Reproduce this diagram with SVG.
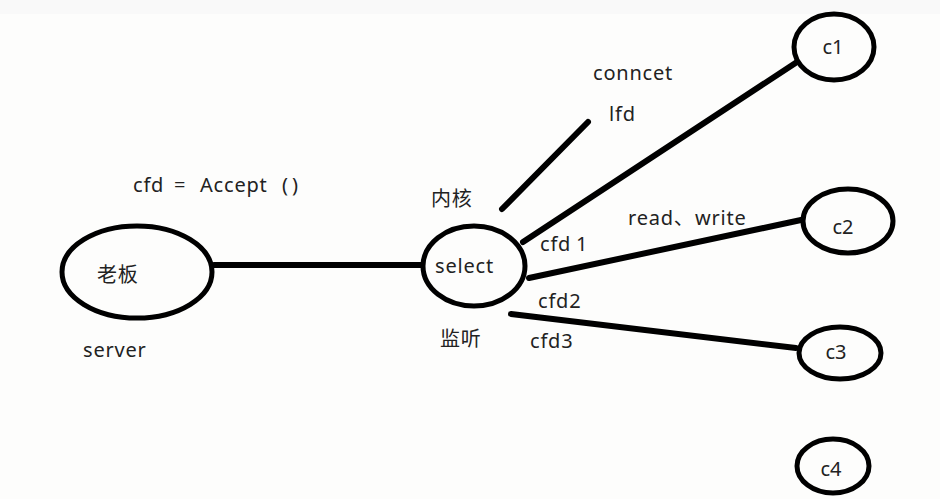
<svg xmlns="http://www.w3.org/2000/svg" width="940" height="499" viewBox="0 0 940 499">
<style>
.n{fill:none;stroke:#000;stroke-width:5}
.c{stroke:#000;stroke-width:6;stroke-linecap:round;fill:none}
text{font-family:"Noto Sans","Noto Sans CJK SC",sans-serif;font-size:20px;fill:#222;letter-spacing:0.8px}
.m{text-anchor:middle;letter-spacing:0}
</style>
<rect width="940" height="499" fill="#fdfdfc"/>
<rect width="940" height="14" fill="#f9f9f9"/>
<g id="connectors">
<line class="c" x1="214" y1="265" x2="421" y2="265"/>
<line class="c" x1="502" y1="209" x2="588" y2="122"/>
<line class="c" x1="523" y1="242" x2="797" y2="62"/>
<line class="c" x1="529" y1="278" x2="801" y2="220"/>
<line class="c" x1="511" y1="314" x2="796" y2="348"/>
</g>
<g id="server">
<ellipse class="n" cx="137" cy="272" rx="75" ry="46"/>
<text x="97" y="282">老板</text>
<text x="83" y="357">server</text>
</g>
<text y="192"><tspan x="133">cfd</tspan><tspan x="174">=</tspan><tspan x="200">Accept</tspan><tspan x="282">(</tspan><tspan x="292">)</tspan></text>
<g id="select">
<ellipse class="n" cx="474" cy="266" rx="51" ry="40"/>
<text x="435" y="273">select</text>
<text x="431" y="206">内核</text>
<text x="440" y="346">监听</text>
</g>
<text x="593" y="80">conncet</text>
<text x="609" y="121">lfd</text>
<text y="251"><tspan x="540">cfd</tspan><tspan x="576">1</tspan></text>
<text y="225"><tspan x="628">read、</tspan><tspan x="695">write</tspan></text>
<text x="538" y="308">cfd2</text>
<text x="530" y="348">cfd3</text>
<g id="c1">
<ellipse class="n" cx="834" cy="47" rx="40" ry="33"/>
<text class="m" x="833" y="54">c1</text>
</g>
<g id="c2">
<ellipse class="n" cx="848" cy="221" rx="45" ry="32"/>
<text class="m" x="843" y="234">c2</text>
</g>
<g id="c3">
<ellipse class="n" cx="840" cy="353" rx="41" ry="26"/>
<text class="m" x="836" y="359">c3</text>
</g>
<g id="c4">
<ellipse class="n" cx="833" cy="466" rx="36" ry="27"/>
<text class="m" x="831" y="476">c4</text>
</g>
</svg>
